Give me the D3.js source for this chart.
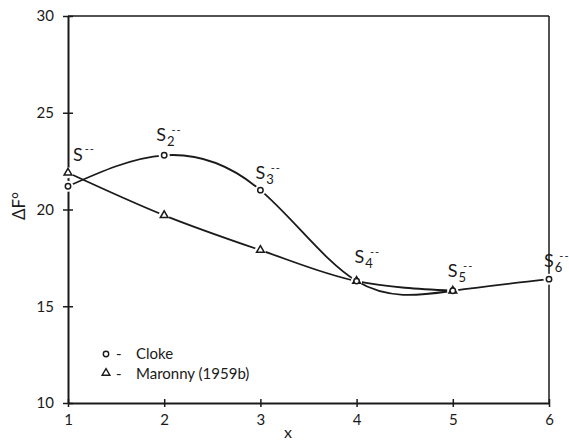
<!DOCTYPE html>
<html>
<head>
<meta charset="utf-8">
<script src="https://cdn.jsdelivr.net/npm/d3@7"></script>
<style>
  html, body { margin: 0; padding: 0; background: #fff; }
  svg text { font-family: Lato, "DejaVu Sans", sans-serif; fill: #1a1a1a; }
</style>
</head>
<body>
<svg id="chart" width="569" height="441"></svg>
<script>
// Free energy of polysulfide ions S_x^-- versus chain length x
const xValues = [1, 2, 3, 4, 5, 6];
const clokeValues = [21.2, 22.8, 21.0, 16.3, 15.8, 16.4];
const maronnyX = [1, 2, 3, 4, 5];
const maronnyValues = [21.9, 19.7, 17.9, 16.3, 15.8];
const yTicks = [10, 15, 20, 25, 30];
const xTicks = [1, 2, 3, 4, 5, 6];
const ionSubscripts = ["", "2", "3", "4", "5", "6"];
const legendLabels = ["Cloke", "Maronny (1959b)"];

// label offsets (px) from each Cloke point
const labelOffsets = [[5, -25], [-8, -14], [-5, -11], [-2, -18], [-5, -14], [-5, -12]];

const svg = d3.select("#chart");
const ink = "#1a1a1a";

const x = d3.scaleLinear().domain([1, 6]).range([68, 549]);
const y = d3.scaleLinear().domain([10, 30]).range([403, 16]);

// frame
const frame = svg.append("g").attr("stroke", ink).attr("fill", "none");
frame.append("line").attr("x1", x(1)).attr("x2", x(6)).attr("y1", y(30)).attr("y2", y(30)).attr("stroke-width", 1.5);
frame.append("line").attr("x1", x(6)).attr("x2", x(6)).attr("y1", y(30)).attr("y2", y(10)).attr("stroke-width", 1.5);

// left axis
const yAxis = d3.axisLeft(y).tickValues(yTicks).tickFormat(d3.format("d")).tickSize(5).tickPadding(9).tickSizeOuter(0);
const gy = svg.append("g").attr("transform", `translate(${x(1)},0)`).call(yAxis);
gy.select(".domain").attr("stroke", ink).attr("stroke-width", 2);
gy.selectAll(".tick line").attr("x1", -5).attr("x2", 5).attr("stroke", ink).attr("stroke-width", 1.5);
gy.selectAll(".tick text").attr("font-size", 15).attr("font-family", "Lato, sans-serif").attr("fill", ink);

// bottom axis
const xAxis = d3.axisBottom(x).tickValues(xTicks).tickFormat(d3.format("d")).tickSize(4).tickPadding(7).tickSizeOuter(0);
const gx = svg.append("g").attr("transform", `translate(0,${y(10)})`).call(xAxis);
gx.select(".domain").attr("stroke", ink).attr("stroke-width", 2);
gx.selectAll(".tick line").attr("y1", -4).attr("y2", 4).attr("stroke", ink).attr("stroke-width", 1.5);
gx.selectAll(".tick text").attr("font-size", 15).attr("font-family", "Lato, sans-serif").attr("fill", ink);

// axis titles
svg.append("text").attr("x", 288).attr("y", 438).attr("text-anchor", "middle")
  .attr("font-size", 16).text("x");
svg.append("text").attr("transform", "translate(25,206) rotate(-90)").attr("text-anchor", "middle")
  .attr("font-size", 17).attr("font-family", "'Liberation Serif', 'DejaVu Serif', serif").text("ΔF°");

// curves
const cloke = xValues.map((v, i) => [v, clokeValues[i]]);
const maronny = maronnyX.map((v, i) => [v, maronnyValues[i]]);

svg.append("path").datum(cloke)
  .attr("d", d3.line().x(d => x(d[0])).y(d => y(d[1])).curve(d3.curveNatural))
  .attr("fill", "none").attr("stroke", ink).attr("stroke-width", 1.8);
svg.append("path").datum(maronny)
  .attr("d", d3.line().x(d => x(d[0])).y(d => y(d[1])).curve(d3.curveMonotoneX))
  .attr("fill", "none").attr("stroke", ink).attr("stroke-width", 1.8);

// white halos so the lines stop short of the markers
const allPts = cloke.concat(maronny);
svg.append("g").selectAll("circle").data(allPts).join("circle")
  .attr("cx", d => x(d[0])).attr("cy", d => y(d[1])).attr("r", 5.5).attr("fill", "#fff");

const tri = d3.symbol().type(d3.symbolTriangle).size(26);
svg.append("g").selectAll("path").data(maronny).join("path")
  .attr("transform", d => `translate(${x(d[0])},${y(d[1])})`)
  .attr("d", tri).attr("fill", "none").attr("stroke", ink).attr("stroke-width", 1.5);
svg.append("g").selectAll("circle").data(cloke).join("circle")
  .attr("cx", d => x(d[0])).attr("cy", d => y(d[1])).attr("r", 2.7)
  .attr("fill", "#fff").attr("stroke", ink).attr("stroke-width", 1.5);

// ion labels S_x^--
const labels = svg.append("g");
cloke.forEach((d, i) => {
  const [dx, dy] = labelOffsets[i];
  const t = labels.append("text").attr("x", x(d[0]) + dx).attr("y", y(d[1]) + dy);
  t.append("tspan").attr("font-size", 18).text("S");
  if (ionSubscripts[i]) {
    t.append("tspan").attr("font-size", 13).attr("dx", 1).attr("dy", 5).text(ionSubscripts[i]);
    t.append("tspan").attr("font-size", 11).attr("dx", -3).attr("dy", -12).attr("letter-spacing", 1).text("--");
  } else {
    t.append("tspan").attr("font-size", 11).attr("dx", 2).attr("dy", -8).attr("letter-spacing", 1).text("--");
  }
});

// legend
const legend = svg.append("g");
legend.append("circle").attr("cx", 106).attr("cy", 354).attr("r", 2.7)
  .attr("fill", "#fff").attr("stroke", ink).attr("stroke-width", 1.4);
legend.append("path").attr("transform", "translate(106,373)").attr("d", tri)
  .attr("fill", "none").attr("stroke", ink).attr("stroke-width", 1.4);
legendLabels.forEach((s, i) => {
  legend.append("text").attr("x", 116).attr("y", 359 + i * 20).attr("font-size", 15).text("-");
  legend.append("text").attr("x", 136).attr("y", 359 + i * 20).attr("font-size", 15).text(s);
});
</script>
</body>
</html>
